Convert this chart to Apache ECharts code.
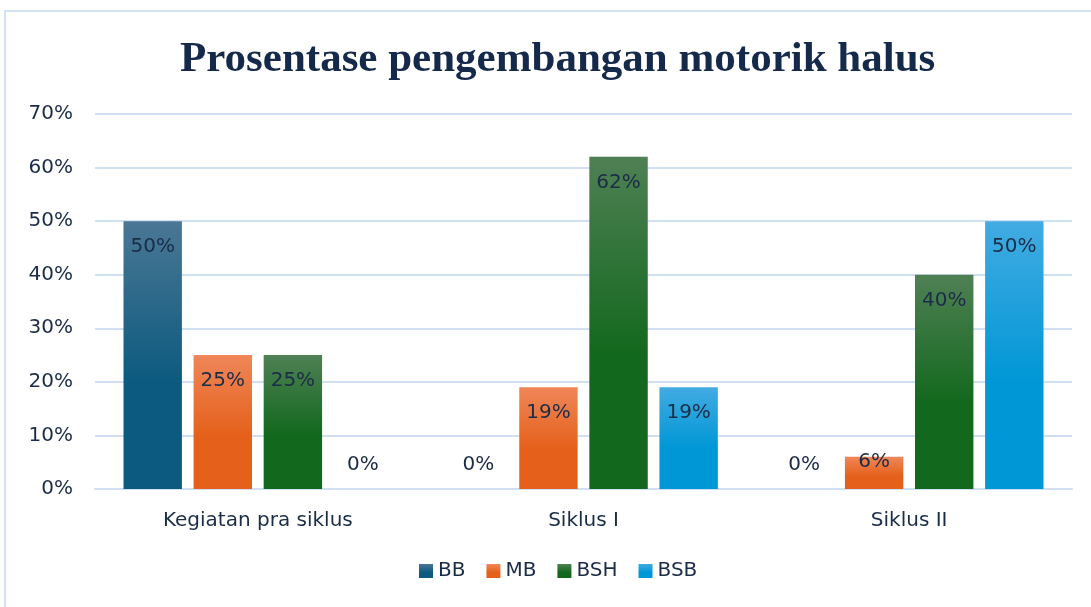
<!DOCTYPE html>
<html>
<head>
<meta charset="utf-8">
<title>Prosentase pengembangan motorik halus</title>
<script src="https://cdn.jsdelivr.net/npm/echarts@6/dist/echarts.min.js"></script>
<style>
  html, body { margin: 0; padding: 0; background: #fff; overflow: hidden; }
  .frame {
    position: absolute; left: 4px; top: 10px;
    width: 1120px; height: 640px;
    border: 2px solid #d3e2f4;
  }
  #chart { position: absolute; left: 0; top: 0; width: 1091px; height: 607px; }
</style>
</head>
<body>
<div class="frame"></div>
<div id="chart"></div>
<script>
// data
var categories = ['Kegiatan pra siklus', 'Siklus I', 'Siklus II']
var seriesNames = ['BB', 'MB', 'BSH', 'BSB']
var bbValues = [50, 0, 0]
var mbValues = [25, 19, 6]
var bshValues = [25, 62, 40]
var bsbValues = [0, 19, 50]
var yTicks = [0, 10, 20, 30, 40, 50, 60, 70]

// top / bottom colours of each bar gradient
var colorPairs = [
  ['#4a7795', '#0c5a7f'],
  ['#ef8659', '#e5611b'],
  ['#4f8054', '#12681d'],
  ['#42abe2', '#0097d6']
]

function grad (pair) {
  return new echarts.graphic.LinearGradient(0, 0, 0, 1, [
    { offset: 0, color: pair[0] },
    { offset: 0.6, color: pair[1] },
    { offset: 1, color: pair[1] }
  ])
}

var textFont = 'DejaVu Sans, sans-serif'
var textColor = '#1b2c47'

function makeSeries (name, values, idx) {
  return {
    name: name,
    type: 'bar',
    barGap: '20%',
    barCategoryGap: '17.5%',
    itemStyle: { color: grad(colorPairs[idx]) },
    data: values.map(function (v) {
      if (v === 0) {
        return { value: v, label: { position: 'top', distance: 14 } }
      }
      if (v < 10) {
        // small bar: excel puts the label straddling the top
        return { value: v, label: { position: 'insideTop', distance: -5 } }
      }
      return v
    }),
    label: {
      show: true,
      position: 'insideTop',
      distance: 16,
      formatter: '{c}%',
      color: textColor,
      fontSize: 20,
      fontFamily: textFont
    }
  }
}

var chart = echarts.init(document.getElementById('chart'))
var option = {
  animation: false,
  title: {
    text: 'Prosentase pengembangan motorik halus',
    left: 175,
    top: 33,
    textStyle: {
      fontFamily: 'Liberation Serif, Times New Roman, serif',
      fontWeight: 'bold',
      fontSize: 43,
      color: '#15294a'
    }
  },
  legend: {
    data: seriesNames,
    bottom: 21,
    left: 414,
    icon: 'rect',
    itemWidth: 14,
    itemHeight: 14,
    itemGap: 21,
    textStyle: {
      fontFamily: textFont,
      fontSize: 20,
      color: textColor
    }
  },
  grid: {
    left: 95,
    right: 19,
    top: 114,
    bottom: 118
  },
  xAxis: {
    type: 'category',
    data: categories,
    axisLine: { lineStyle: { color: '#d0e0f2', width: 2 } },
    axisTick: { show: false },
    axisLabel: {
      margin: 22,
      fontFamily: textFont,
      fontSize: 20,
      color: textColor
    }
  },
  yAxis: {
    type: 'value',
    min: yTicks[0],
    max: yTicks[yTicks.length - 1],
    interval: 10,
    axisLine: { show: false },
    axisTick: { show: false },
    splitLine: { lineStyle: { color: '#d0e0f2', width: 2 } },
    axisLabel: {
      formatter: '{value}%',
      margin: 22,
      fontFamily: textFont,
      fontSize: 20,
      color: textColor
    }
  },
  series: [
    makeSeries(seriesNames[0], bbValues, 0),
    makeSeries(seriesNames[1], mbValues, 1),
    makeSeries(seriesNames[2], bshValues, 2),
    makeSeries(seriesNames[3], bsbValues, 3)
  ]
}
chart.setOption(option)
</script>
</body>
</html>
